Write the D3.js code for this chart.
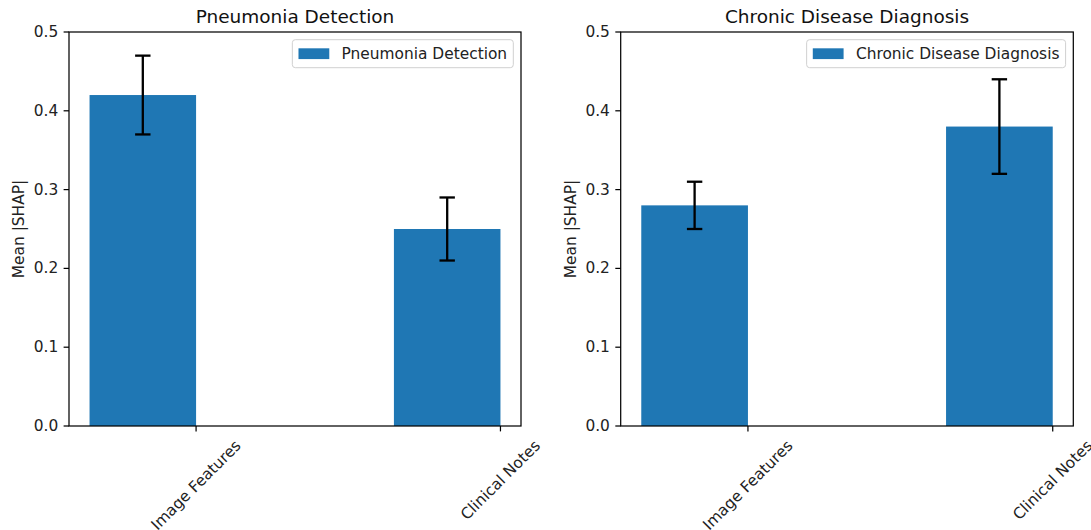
<!DOCTYPE html>
<html>
<head>
<meta charset="utf-8">
<script src="https://cdn.jsdelivr.net/npm/d3@7"></script>
<style>
  body { margin: 0; background: #fff; }
  svg { display: block; font-family: "DejaVu Sans", sans-serif; }
</style>
</head>
<body>
<script>
const w = 1091;
const h = 530;
const pt = 1.54; // px per point in the reference

const features = ["Image Features", "Clinical Notes"];
const titles = ["Pneumonia Detection", "Chronic Disease Diagnosis"];
const meanShap = [[0.42, 0.25], [0.28, 0.38]];
const errs = [[0.05, 0.04], [0.03, 0.06]];
const yTicks = [0.0, 0.1, 0.2, 0.3, 0.4, 0.5];

const barWidth = 0.35;
const panels = [{x0: 69, x1: 521}, {x0: 620.7, x1: 1073.3}];
const axTop = 32, axBottom = 426;
const fs = 10 * pt, titleFs = 12 * pt;

const svg = d3.select("body").append("svg")
  .attr("width", w).attr("height", h);

const yScale = d3.scaleLinear().domain([0, 0.5]).range([axBottom, axTop]);

panels.forEach((p, k) => {
  // bars go from tick - width to tick, with 5% margins like matplotlib
  const lo = -barWidth, hi = features.length - 1;
  const m = (hi - lo) * 0.05;
  const xScale = d3.scaleLinear().domain([lo - m, hi + m]).range([p.x0, p.x1]);
  const g = svg.append("g");

  const data = features.map((f, i) => ({f: f, i: i, v: meanShap[k][i], e: errs[k][i]}));

  g.selectAll("rect.bar").data(data).enter().append("rect")
    .attr("class", "bar")
    .attr("x", d => xScale(d.i - barWidth))
    .attr("width", d => xScale(d.i) - xScale(d.i - barWidth))
    .attr("y", d => yScale(d.v))
    .attr("height", d => yScale(0) - yScale(d.v))
    .attr("fill", "#1f77b4");

  // error bars
  const cap = 5 * pt;
  const eb = g.selectAll("g.err").data(data).enter().append("g").attr("class", "err")
    .attr("stroke", "black").attr("stroke-width", 1.5 * pt);
  eb.append("line")
    .attr("x1", d => xScale(d.i - barWidth / 2)).attr("x2", d => xScale(d.i - barWidth / 2))
    .attr("y1", d => yScale(d.v - d.e)).attr("y2", d => yScale(d.v + d.e));
  [1, -1].forEach(s => {
    eb.append("line")
      .attr("x1", d => xScale(d.i - barWidth / 2) - cap).attr("x2", d => xScale(d.i - barWidth / 2) + cap)
      .attr("y1", d => yScale(d.v + s * d.e)).attr("y2", d => yScale(d.v + s * d.e));
  });

  // spines
  g.append("rect")
    .attr("x", p.x0).attr("y", axTop)
    .attr("width", p.x1 - p.x0).attr("height", axBottom - axTop)
    .attr("fill", "none").attr("stroke", "black").attr("stroke-width", 0.8 * pt);

  // y axis
  const tl = 3.5 * pt;
  const yAxis = g.append("g");
  yTicks.forEach(t => {
    yAxis.append("line")
      .attr("x1", p.x0 - tl).attr("x2", p.x0)
      .attr("y1", yScale(t)).attr("y2", yScale(t))
      .attr("stroke", "black").attr("stroke-width", 0.8 * pt);
    yAxis.append("text")
      .attr("x", p.x0 - tl - 3.5 * pt).attr("y", yScale(t))
      .attr("text-anchor", "end").attr("dominant-baseline", "central")
      .attr("font-size", fs).attr("fill", "#222")
      .text(t.toFixed(1));
  });
  g.append("text")
    .attr("transform", `translate(${p.x0 - 45},${(axTop + axBottom) / 2}) rotate(-90)`)
    .attr("text-anchor", "middle")
    .attr("font-size", fs).attr("fill", "#222")
    .text("Mean |SHAP|");

  // x ticks, labels rotated 45 deg centered on the tick
  features.forEach((f, i) => {
    const tx = xScale(i);
    g.append("line")
      .attr("x1", tx).attr("x2", tx)
      .attr("y1", axBottom).attr("y2", axBottom + tl)
      .attr("stroke", "black").attr("stroke-width", 0.8 * pt);
    const lab = g.append("text")
      .attr("text-anchor", "middle").attr("dominant-baseline", "central")
      .attr("font-size", fs).attr("fill", "#222")
      .text(f);
    const len = lab.node().getComputedTextLength();
    const boxH = (len + fs * 1.16) / Math.SQRT2;
    lab.attr("transform", `translate(${tx},${axBottom + tl + 3.5 * pt + boxH / 2}) rotate(-45)`);
  });

  // title
  g.append("text")
    .attr("x", (p.x0 + p.x1) / 2).attr("y", axTop - 6 * pt)
    .attr("text-anchor", "middle")
    .attr("font-size", titleFs).attr("fill", "#111")
    .text(titles[k]);

  // legend
  const lg = g.append("g");
  const lt = lg.append("text")
    .attr("font-size", fs).attr("fill", "#222")
    .attr("dominant-baseline", "central")
    .text(titles[k]);
  const tw = lt.node().getComputedTextLength();
  const boxW = 0.4 * fs + 2 * fs + 0.8 * fs + tw + 0.4 * fs;
  const boxHt = 28;
  const bx = p.x1 - 0.5 * fs - boxW, by = axTop + 0.5 * fs;
  lg.insert("rect", "text")
    .attr("x", bx).attr("y", by).attr("width", boxW).attr("height", boxHt)
    .attr("rx", 3).attr("fill", "white").attr("fill-opacity", 0.8)
    .attr("stroke", "#d0d0d0").attr("stroke-width", 1);
  lg.insert("rect", "text")
    .attr("x", bx + 0.4 * fs).attr("y", by + boxHt / 2 - 0.35 * fs)
    .attr("width", 2 * fs).attr("height", 0.7 * fs)
    .attr("fill", "#1f77b4");
  lt.attr("x", bx + 0.4 * fs + 2.8 * fs).attr("y", by + boxHt / 2);
});
</script>
</body>
</html>
